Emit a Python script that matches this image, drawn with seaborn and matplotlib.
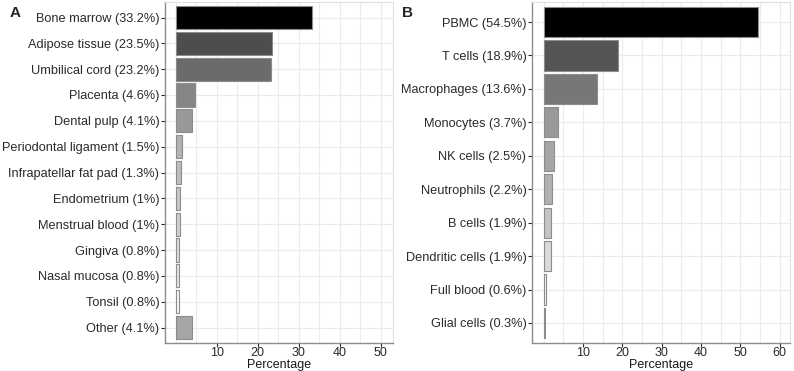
import matplotlib
matplotlib.use("Agg")
import matplotlib.pyplot as plt
import seaborn as sns
import pandas as pd
from matplotlib.ticker import MultipleLocator

# Panel A: MSC sources
src_labels = ["Bone marrow (33.2%)", "Adipose tissue (23.5%)", "Umbilical cord (23.2%)",
              "Placenta (4.6%)", "Dental pulp (4.1%)", "Periodontal ligament (1.5%)",
              "Infrapatellar fat pad (1.3%)", "Endometrium (1%)", "Menstrual blood (1%)",
              "Gingiva (0.8%)", "Nasal mucosa (0.8%)", "Tonsil (0.8%)", "Other (4.1%)"]
src_values = [33.2, 23.5, 23.2, 4.6, 4.1, 1.5, 1.3, 1.0, 1.0, 0.8, 0.8, 0.8, 4.1]
src_colors = ["#000000", "#4d4d4d", "#6b6b6b", "#858585", "#999999", "#b3b3b3",
              "#bdbdbd", "#c8c8c8", "#d0d0d0", "#dcdcdc", "#e6e6e6", "#f8f8f8", "#a6a6a6"]

# Panel B: target cells
cell_labels = ["PBMC (54.5%)", "T cells (18.9%)", "Macrophages (13.6%)", "Monocytes (3.7%)",
               "NK cells (2.5%)", "Neutrophils (2.2%)", "B cells (1.9%)",
               "Dendritic cells (1.9%)", "Full blood (0.6%)", "Glial cells (0.3%)"]
cell_values = [54.5, 18.9, 13.6, 3.7, 2.5, 2.2, 1.9, 1.9, 0.6, 0.3]
cell_colors = ["#000000", "#555555", "#777777", "#999999", "#a6a6a6", "#b0b0b0",
               "#c4c4c4", "#dadada", "#f5f5f5", "#a0a0a0"]

sns.set_theme(style="whitegrid")
plt.rcParams['font.family'] = ['Liberation Sans', 'DejaVu Sans']

W, H = 794, 371
fig = plt.figure(figsize=(W / 100, H / 100), dpi=100)
ax_a = fig.add_axes([165 / W, 1 - 343 / H, (393 - 165) / W, (343 - 2) / H])
ax_b = fig.add_axes([532 / W, 1 - 343 / H, (790 - 532) / W, (343 - 2) / H])


def draw_panel(ax, labels, values, colors, xlim, xmax_tick):
    df = pd.DataFrame({"label": labels, "value": values})
    sns.barplot(data=df, y="label", x="value", hue="label", palette=dict(zip(labels, colors)),
                orient="h", width=0.9, edgecolor="#8c8c8c", linewidth=0.8,
                legend=False, ax=ax)
    ax.set_xlim(*xlim)
    ax.set_ylim(len(labels) - 0.4, -0.6)
    ax.set_xticks(list(range(10, xmax_tick + 1, 10)))
    ax.xaxis.set_minor_locator(MultipleLocator(5))
    ax.grid(which="major", color="#ebebeb", linewidth=0.8)
    ax.grid(which="minor", axis="x", color="#ebebeb", linewidth=0.8)
    ax.set_axisbelow(True)
    ax.set_ylabel("")
    ax.set_xlabel("Percentage", fontsize=9, color="#1a1a1a", labelpad=0)
    ax.tick_params(axis="y", which="major", labelsize=9.2, colors="#2a2a2a",
                   length=3, width=0.8, pad=1, left=True)
    ax.tick_params(axis="x", which="major", labelsize=9, colors="#2a2a2a",
                   length=3, width=0.8, pad=0, bottom=True)
    ax.tick_params(axis="both", which="minor", length=0)
    for s in ["top", "right"]:
        ax.spines[s].set_color("#e0e0e0")
        ax.spines[s].set_linewidth(0.8)
    for s in ["left", "bottom"]:
        ax.spines[s].set_color("#8c8c8c")
        ax.spines[s].set_linewidth(1.0)


draw_panel(ax_a, src_labels, src_values, src_colors, (-2.6, 53.0), 50)
draw_panel(ax_b, cell_labels, cell_values, cell_colors, (-3.0, 62.6), 60)

fig.text(10 / W, 1 - 13 / H, "A", fontsize=11, fontweight="bold", va="center")
fig.text(402 / W, 1 - 13 / H, "B", fontsize=11, fontweight="bold", va="center")

fig.savefig("out.png", dpi=100)
